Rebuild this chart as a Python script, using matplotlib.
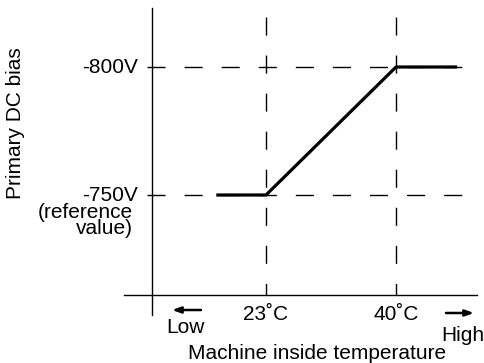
import matplotlib
matplotlib.use("Agg")
import matplotlib.pyplot as plt

plt.rcParams['font.family'] = ['Liberation Sans', 'DejaVu Sans']
plt.rcParams['lines.scale_dashes'] = False

# data
temp = [16.5, 23, 40, 48]          # machine inside temperature (C)
bias = [-750, -750, -800, -800]    # primary DC bias (V)
temp_ticks = [23, 40]
temp_labels = ['23˚C', '40˚C']
bias_ticks = [-800, -750]
bias_labels = ['-800V', '-750V']

W, H = 485, 363
fig = plt.figure(figsize=(W / 100, H / 100), dpi=100)
ax = fig.add_axes([0, 0, 1, 1])
ax.axis('off')

# pixel -> data helpers (layout only)
def X(px):
    return 23 + (px - 266) * 17 / 130

def Y(py):
    return -800 + (py - 67) * 50 / 128

ax.set_xlim(X(0), X(W))
ax.set_ylim(Y(H), Y(0))

fs = 15

# axes lines
ax.plot([X(152), X(152)], [Y(8), Y(315)], color='black', lw=1.0)
ax.plot([X(124), X(477)], [Y(295), Y(295)], color='black', lw=1.0)

# dashed guide lines
for b in bias_ticks:
    ax.plot([X(147), X(464)], [b, b], color='black', lw=1.0,
            dashes=(13, 13.7))
for t in temp_ticks:
    ax.plot([t, t], [Y(17), Y(295)], color='black', lw=1.0,
            dashes=(13, 14.4))

# the curve
ax.plot(temp, bias, color='black', lw=2.3, solid_capstyle='butt')

# y labels
for b, lab in zip(bias_ticks, bias_labels):
    ax.text(X(138), b + 6 * 50 / 128, lab, ha='right', va='baseline', fontsize=fs)
ax.text(X(133), Y(234), '(reference\nvalue)', ha='right', va='baseline',
        multialignment='right', linespacing=0.8, fontsize=fs)

# x labels
for t, lab in zip(temp_ticks, temp_labels):
    ax.text(t, Y(320), lab, ha='center', va='baseline', fontsize=fs)

ax.text(X(185), Y(333), 'Low', ha='center', va='baseline', fontsize=fs)
ax.text(X(463), Y(341), 'High', ha='center', va='baseline', fontsize=fs)
ax.text(X(317), Y(359), 'Machine inside temperature', ha='center', va='baseline', fontsize=fs)
ax.text(X(16), Y(123), 'Primary DC bias', ha='center', va='center', rotation=90, fontsize=fs)

arrow = dict(arrowstyle='-|>,head_length=0.5,head_width=0.18', lw=1.8,
             color='black', shrinkA=0, shrinkB=0)
ax.annotate('', xy=(X(172), Y(310)), xytext=(X(201), Y(310)), arrowprops=arrow)
ax.annotate('', xy=(X(474), Y(313)), xytext=(X(446), Y(313)), arrowprops=arrow)

fig.savefig('out.png', dpi=100)
